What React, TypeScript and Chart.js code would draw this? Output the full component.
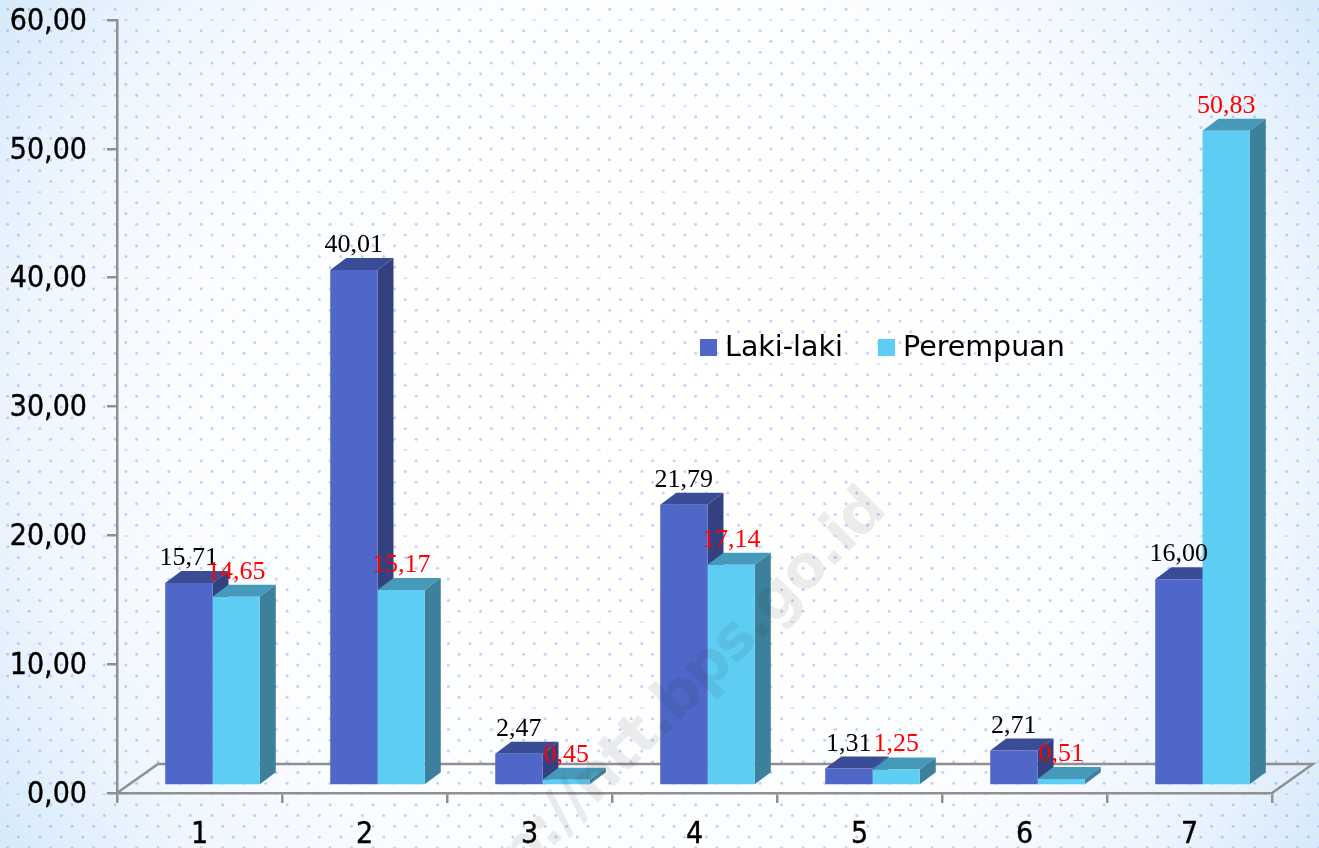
import React, { useEffect, useRef } from "react";
import { Chart, registerables } from "chart.js";

Chart.register(...registerables);

const categories = ["1", "2", "3", "4", "5", "6", "7"];
const lakiLaki = [15.71, 40.01, 2.47, 21.79, 1.31, 2.71, 16.0];
const perempuan = [14.65, 15.17, 0.45, 17.14, 1.25, 0.51, 50.83];

const TICK_FONT = "'DejaVu Sans Condensed', 'DejaVu Sans', sans-serif";
const LEGEND_FONT = "'DejaVu Sans', sans-serif";
const LABEL_FONT = "'Liberation Serif', serif";
const AXIS = "#909090";
const SHIFT_X = 13;
const SHIFT_Y = -7.5;
const DEPTH_X = 16;
const DEPTH_Y = -12;
const FLOOR_X = 41;
const FLOOR_Y = -29;

const shades = [
  { top: "#3a4c96", side: "#334180" },
  { top: "#4699b9", side: "#3c809c" },
];

const fmt = (v: number) => v.toFixed(2).replace(".", ",");

const backgroundPlugin = {
  id: "pageBackground",
  beforeDraw(chart: any) {
    const { ctx, width, height } = chart;
    ctx.save();
    const g = ctx.createRadialGradient(width * 0.5, height * 0.5, 120, width * 0.5, height * 0.5, 800);
    g.addColorStop(0, "#ffffff");
    g.addColorStop(0.5, "#fcfdff");
    g.addColorStop(0.75, "#eff6fe");
    g.addColorStop(1, "#d3e8fa");
    ctx.fillStyle = g;
    ctx.fillRect(0, 0, width, height);
    const tile = document.createElement("canvas");
    tile.width = 43;
    tile.height = 86;
    const t = tile.getContext("2d")!;
    t.filter = "blur(0.6px)";
    t.fillStyle = "rgba(110,145,225,0.4)";
    for (let row = 0; row < 8; row++) {
      const y = 9.3 + row * 10.75;
      const x = row % 2 === 0 ? 7.6 : 18.3;
      [x, x + 21.5].forEach((cx) => {
        t.beginPath();
        if (row === 1) {
          t.rect(cx - 1.8, y - 0.6, 3.6, 1.2);
        } else {
          t.arc(cx, y, 1.5, 0, Math.PI * 2);
        }
        t.fill();
      });
    }
    ctx.fillStyle = ctx.createPattern(tile, "repeat");
    ctx.fillRect(0, 0, width, height);
    ctx.restore();
  },
};

const floorPlugin = {
  id: "floor3d",
  beforeDatasetsDraw(chart: any) {
    const { ctx, chartArea } = chart;
    const { left, right, bottom } = chartArea;
    ctx.save();
    ctx.strokeStyle = AXIS;
    ctx.lineWidth = 2.5;
    ctx.beginPath();
    ctx.moveTo(left, bottom);
    ctx.lineTo(left + FLOOR_X, bottom + FLOOR_Y);
    ctx.lineTo(right + FLOOR_X, bottom + FLOOR_Y);
    ctx.lineTo(right, bottom);
    ctx.stroke();
    // the top and side faces of every bar, left series first, so the fronts drawn next cover them
    ctx.translate(SHIFT_X, SHIFT_Y);
    [0, 1].forEach((i) => {
      const shade = shades[i];
      chart.getDatasetMeta(i).data.forEach((bar: any) => {
        const l = bar.x - bar.width / 2;
        const r = bar.x + bar.width / 2;
        const t = bar.y;
        const b = bar.base;
        ctx.fillStyle = shade.top;
        ctx.beginPath();
        ctx.moveTo(l, t);
        ctx.lineTo(l + DEPTH_X, t + DEPTH_Y);
        ctx.lineTo(r + DEPTH_X, t + DEPTH_Y);
        ctx.lineTo(r, t);
        ctx.closePath();
        ctx.fill();
        ctx.fillStyle = shade.side;
        ctx.beginPath();
        ctx.moveTo(r, t);
        ctx.lineTo(r + DEPTH_X, t + DEPTH_Y);
        ctx.lineTo(r + DEPTH_X, b + DEPTH_Y);
        ctx.lineTo(r, b);
        ctx.closePath();
        ctx.fill();
      });
    });
    ctx.restore();
  },
};

const bars3dPlugin = {
  id: "bars3d",
  beforeDatasetDraw(chart: any) {
    chart.ctx.save();
    chart.ctx.translate(SHIFT_X, SHIFT_Y);
  },
  afterDatasetDraw(chart: any) {
    chart.ctx.restore();
  },
  afterDatasetsDraw(chart: any) {
    const { ctx } = chart;
    ctx.save();
    ctx.font = `26px ${LABEL_FONT}`;
    ctx.textAlign = "center";
    ctx.textBaseline = "alphabetic";
    [0, 1].forEach((i) => {
      const meta = chart.getDatasetMeta(i);
      ctx.fillStyle = i === 0 ? "#000000" : "#ff0000";
      meta.data.forEach((bar: any, k: number) => {
        ctx.fillText(fmt(chart.data.datasets[i].data[k]), bar.x + SHIFT_X, bar.y + SHIFT_Y - 18);
      });
    });
    ctx.restore();
  },
};

const legendPlugin = {
  id: "insideLegend",
  afterDraw(chart: any) {
    const { ctx } = chart;
    const items = [
      { box: 700, text: 725 },
      { box: 878, text: 903 },
    ];
    ctx.save();
    ctx.font = `28.5px ${LEGEND_FONT}`;
    ctx.textBaseline = "alphabetic";
    ctx.textAlign = "left";
    items.forEach((it, i) => {
      const ds = chart.data.datasets[i];
      ctx.fillStyle = ds.backgroundColor;
      ctx.fillRect(it.box, 339, 17, 17);
      ctx.fillStyle = "#000000";
      ctx.fillText(ds.label, it.text, 356);
    });
    ctx.restore();
  },
};

const watermarkPlugin = {
  id: "watermark",
  afterDraw(chart: any) {
    const { ctx } = chart;
    ctx.save();
    ctx.translate(888, 512);
    ctx.rotate(-Math.PI / 4);
    ctx.font = "bold 60px 'DejaVu Sans', sans-serif";
    ctx.letterSpacing = "-1.7px";
    ctx.textAlign = "right";
    ctx.textBaseline = "alphabetic";
    ctx.fillStyle = "rgba(40,40,40,0.09)";
    ctx.fillText("http://ntt.bps.go.id", 0, 0);
    ctx.restore();
  },
};

const noScalePadding = (s: any) => {
  s.paddingTop = 0;
  s.paddingBottom = 0;
  s.paddingLeft = 0;
  s.paddingRight = 0;
};

// the reference's value labels sit slightly below the tick mark centre
const nudgeLabels = (s: any, dy: number) => {
  if (s.__nudged) return;
  s.__nudged = true;
  const draw = s.drawLabels;
  s.drawLabels = function (area: any) {
    this.ctx.save();
    this.ctx.translate(0, dy);
    draw.call(this, area);
    this.ctx.restore();
  };
};

export default function App() {
  const ref = useRef<HTMLCanvasElement>(null);
  useEffect(() => {
    const chart = new Chart(ref.current!, {
      type: "bar",
      data: {
        labels: categories,
        datasets: [
          { label: "Laki-laki", data: lakiLaki, backgroundColor: "#4e67c8", clip: false } as any,
          { label: "Perempuan", data: perempuan, backgroundColor: "#5dcdf4", clip: false } as any,
        ],
      },
      options: {
        responsive: false,
        animation: false,
        layout: { autoPadding: false, padding: { top: 20, right: 47, left: 0, bottom: 0 } },
        plugins: { legend: { display: false }, tooltip: { enabled: false }, title: { display: false } },
        datasets: { bar: { categoryPercentage: 0.573, barPercentage: 1, borderWidth: 0 } },
        scales: {
          x: {
            offset: true,
            afterFit: (s: any) => {
              s.height = 55;
              noScalePadding(s);
            },
            border: { display: true, color: AXIS, width: 2.5 },
            grid: { display: true, drawOnChartArea: false, drawTicks: true, tickLength: 10, color: AXIS, lineWidth: 2.5, offset: true },
            ticks: { color: "#000000", padding: 14, maxRotation: 0, textStrokeColor: "#000000", textStrokeWidth: 0.4, font: { family: TICK_FONT, size: 30 } },
          },
          y: {
            min: 0,
            max: 60,
            afterFit: (s: any) => {
              s.width = 117;
              noScalePadding(s);
              nudgeLabels(s, 2);
            },
            border: { display: true, color: AXIS, width: 2.5 },
            grid: { display: true, drawOnChartArea: false, drawTicks: true, tickLength: 10, color: AXIS, lineWidth: 2.5 },
            ticks: { color: "#000000", padding: 20, stepSize: 10, textStrokeColor: "#000000", textStrokeWidth: 0.4, font: { family: TICK_FONT, size: 30 }, callback: (v: any) => fmt(Number(v)) },
          },
        },
      },
      plugins: [backgroundPlugin, floorPlugin, bars3dPlugin, legendPlugin, watermarkPlugin],
    } as any);
    return () => chart.destroy();
  }, []);
  return (
    <div style={{ position: "absolute", left: 0, top: 0, width: 1319, height: 848 }}>
      <canvas ref={ref} width={1319} height={848} style={{ display: "block" }} />
    </div>
  );
}
